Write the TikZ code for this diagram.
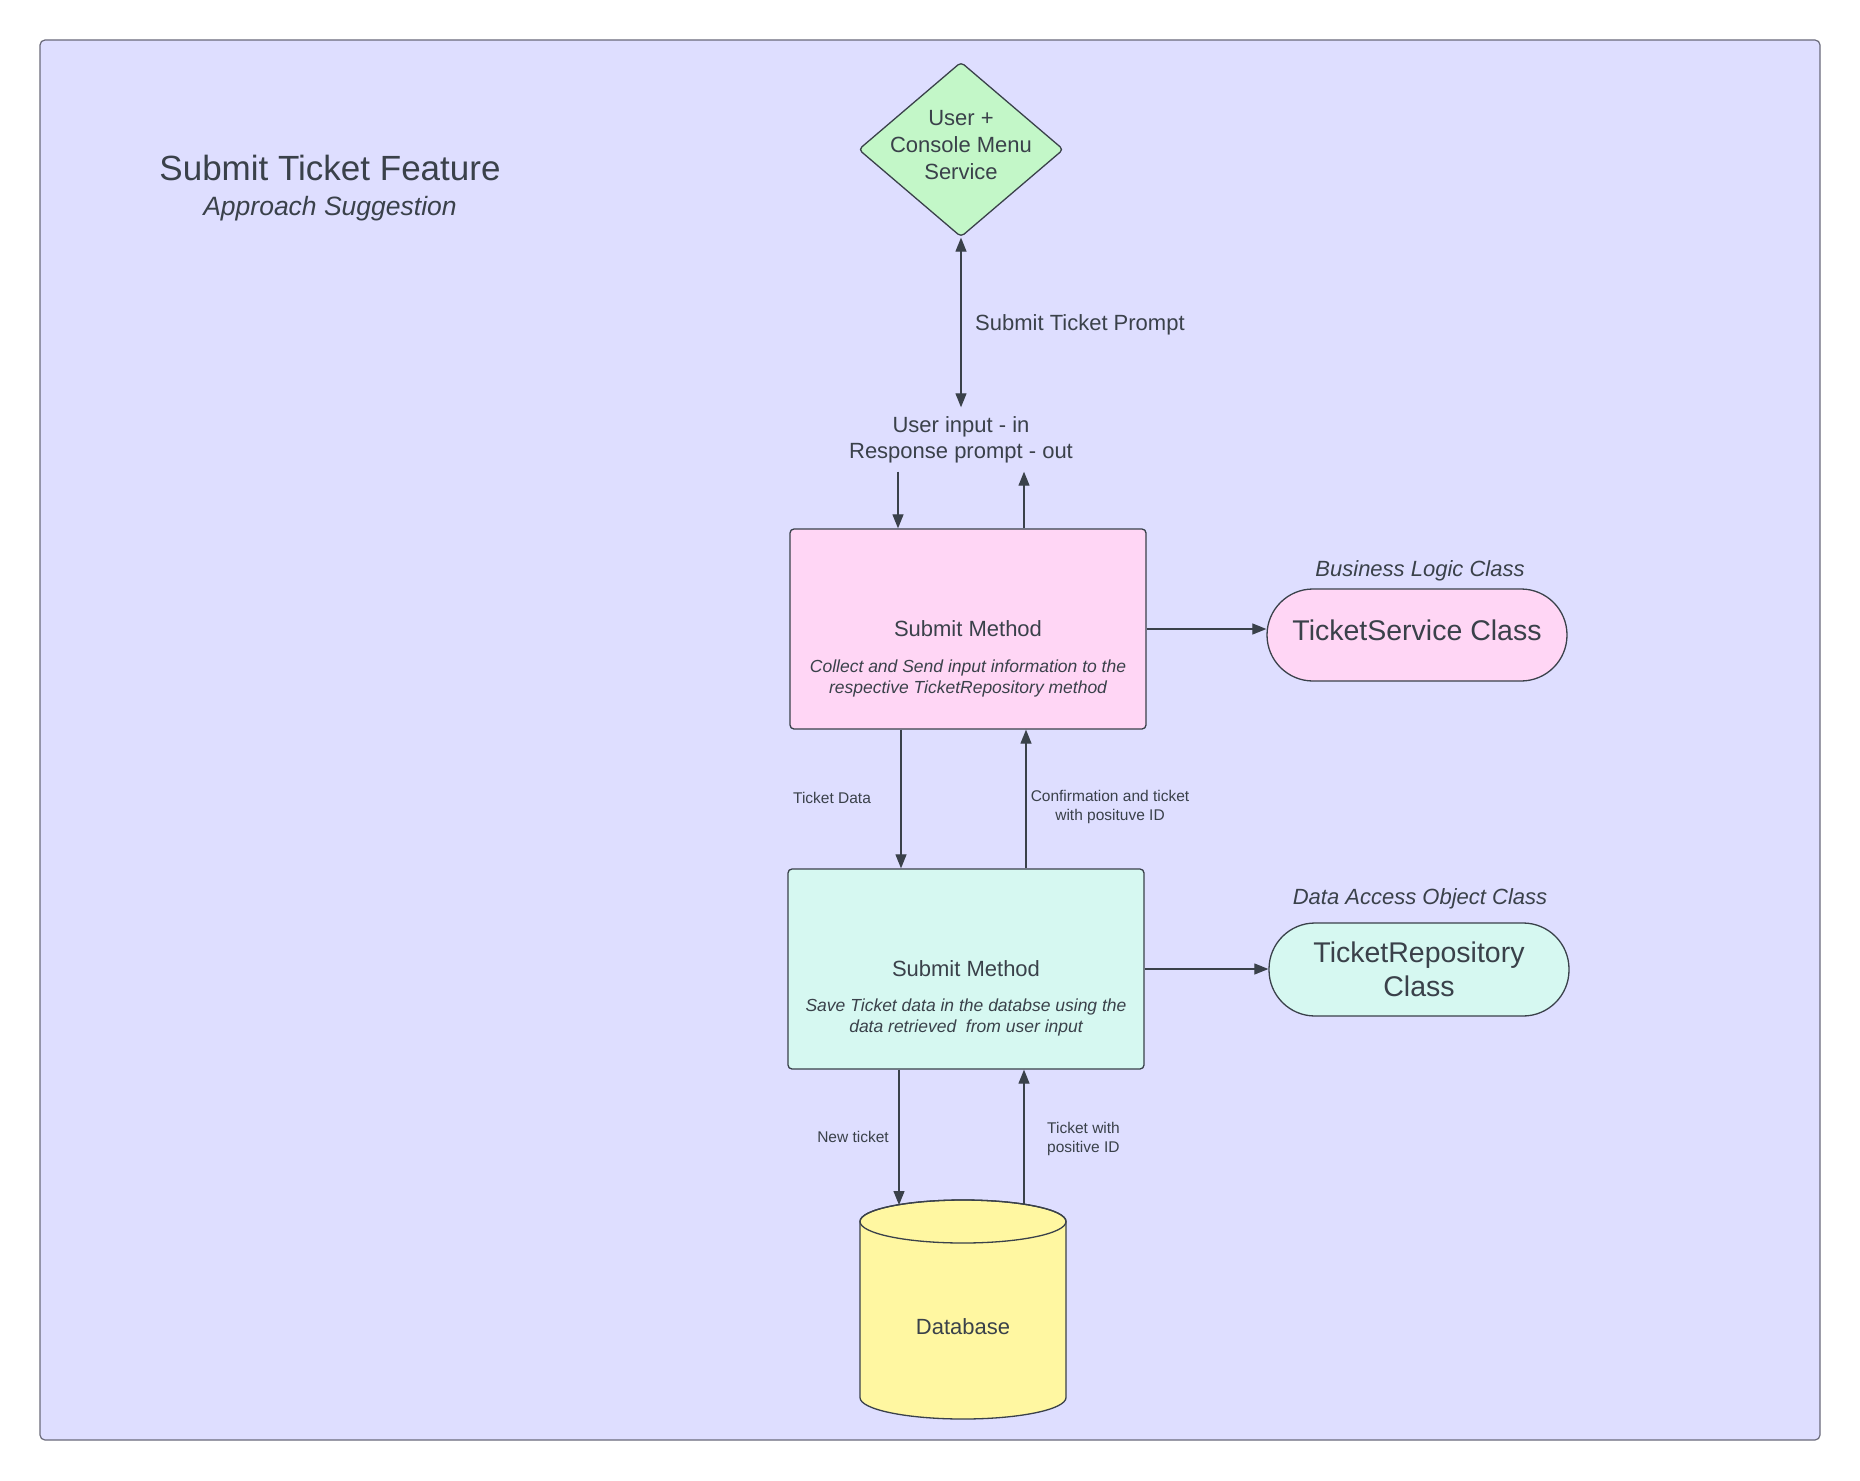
\documentclass[tikz,border=0pt]{standalone}
\usepackage{fontspec}
\setmainfont{Liberation Sans}
\usetikzlibrary{arrows.meta,shapes.geometric}
\definecolor{ink}{HTML}{3A414A}
\definecolor{framec}{HTML}{6A6A7A}
\definecolor{bgpurple}{HTML}{DEDEFF}
\definecolor{pinkfill}{HTML}{FFD6F5}
\definecolor{tealfill}{HTML}{D6F8F1}
\definecolor{greenfill}{HTML}{C3F7C8}
\definecolor{yellowfill}{HTML}{FFF7A1}
\newcommand\myfs[2]{\fontsize{#1}{#2}\selectfont}
\begin{document}
\begin{tikzpicture}[x=1pt,y=1pt,
  every node/.style={text=ink},
  lbl/.style={inner sep=0pt, align=center},
  shapebox/.style={draw=ink, line width=1.3pt, rectangle, rounded corners=4pt, inner sep=0pt},
  arr/.style={draw=ink, line width=1.2pt, -{Triangle[length=14pt,width=11pt]}},
  arrboth/.style={draw=ink, line width=1.2pt, {Triangle[length=14pt,width=11pt]}-{Triangle[length=14pt,width=11pt]}}]
\useasboundingbox (0,0) rectangle (1860,-1480);
\fill[white] (0,0) rectangle (1860,-1480);
% frame
\node[draw=framec, line width=1.2pt, fill=bgpurple, rectangle, rounded corners=5pt, minimum width=1780pt, minimum height=1400pt, inner sep=0pt] (frame) at (930,-740) {};
% title
\node[lbl, anchor=base, font=\myfs{35}{42}] (title) at (330,-180) {Submit Ticket Feature};
\node[lbl, anchor=base, font=\myfs{26.5}{32}\itshape] (subtitle) at (330,-215) {Approach Suggestion};
% diamond
\node[diamond, draw=ink, line width=1.3pt, fill=greenfill, rounded corners=4pt, minimum width=205pt, minimum height=175pt, inner sep=0pt] (um) at (961,-149.5) {};
\node[lbl, font=\myfs{22}{26.7}] (umt) at (961,-145) {User +\\Console Menu\\Service};
% user io text
\node[lbl, minimum height=64pt, font=\myfs{22}{26}] (userio) at (961,-439.5) {User input - in\\Response prompt - out};
\node[lbl, anchor=west, font=\myfs{22}{26}] (prompt) at (975,-324.5) {Submit Ticket Prompt};
% pink box
\node[shapebox, fill=pinkfill, minimum width=356pt, minimum height=200pt] (pm) at (968,-629) {};
\node[lbl, font=\myfs{22}{26}] (pmt) at (968,-629) {Submit Method};
\node[lbl, font=\myfs{17.5}{21}\itshape] (pmd) at (968,-678) {Collect and Send input information to the\\respective TicketRepository method};
% teal box
\node[shapebox, fill=tealfill, minimum width=356pt, minimum height=200pt] (tm) at (966,-969) {};
\node[lbl, font=\myfs{22}{26}] (tmt) at (966,-969) {Submit Method};
\node[lbl, font=\myfs{17.5}{21}\itshape] (tmd) at (966,-1017) {Save Ticket data in the databse using the\\data retrieved\ \ from user input};
% classes
\node[shapebox, fill=pinkfill, rounded corners=46pt, minimum width=300pt, minimum height=92pt, text height=20.5pt, text depth=10pt, font=\myfs{28.5}{32}] (ts) at (1417,-635) {TicketService Class};
\node[lbl, font=\myfs{22}{26}\itshape] (tsl) at (1420,-570.5) {Business Logic Class};
\node[shapebox, fill=tealfill, rounded corners=46pt, minimum width=300pt, minimum height=93pt, align=center, font=\myfs{28.5}{34}] (tr) at (1419,-969.5) {TicketRepository\\Class};
\node[lbl, font=\myfs{22}{26}\itshape] (trl) at (1420,-898.5) {Data Access Object Class};
% database cylinder
\filldraw[draw=ink, line width=1.3pt, fill=yellowfill] (860,-1221.5) -- (860,-1397.5) arc[start angle=180, end angle=360, x radius=103pt, y radius=21.5pt] -- (1066,-1221.5) arc[start angle=0, end angle=180, x radius=103pt, y radius=21.5pt] -- cycle;
\draw[draw=ink, line width=1.3pt] (963,-1221.5) ellipse[x radius=103pt, y radius=21.5pt];
\node[lbl, font=\myfs{22}{26}] (db) at (963,-1327) {Database};
\coordinate (dbin) at (899,-1205);
\coordinate (dbout) at (1024,-1205);
% x positions
\coordinate (xa) at (898,0);
\coordinate (xb) at (1024,0);
\coordinate (xc) at (901,0);
\coordinate (xd) at (1026,0);
\coordinate (xe) at (899,0);
% connectors
\draw[arrboth] (um.south) -- (userio.north);
\draw[arr] (userio.south -| xa) -- (pm.north -| xa);
\draw[arr] (pm.north -| xb) -- (userio.south -| xb);
\draw[arr] (pm.east) -- (pm.east -| ts.west);
\draw[arr] (pm.south -| xc) -- (tm.north -| xc);
\draw[arr] (tm.north -| xd) -- (pm.south -| xd);
\draw[arr] (tm.east) -- (tm.east -| tr.west);
\draw[arr] (tm.south -| xe) -- (dbin);
\draw[arr] (dbout) -- (tm.south -| xb);
% connector labels
\node[lbl, font=\myfs{15.5}{19}] (l1) at (832,-798) {Ticket Data};
\node[lbl, font=\myfs{15.5}{19}] (l2) at (1110,-807) {Confirmation and ticket\\with posituve ID};
\node[lbl, font=\myfs{15.5}{19}] (l3) at (853,-1137) {New ticket};
\node[lbl, anchor=west, align=left, font=\myfs{15.5}{19}] (l4) at (1047,-1139) {Ticket with\\positive ID};
\end{tikzpicture}
\end{document}
